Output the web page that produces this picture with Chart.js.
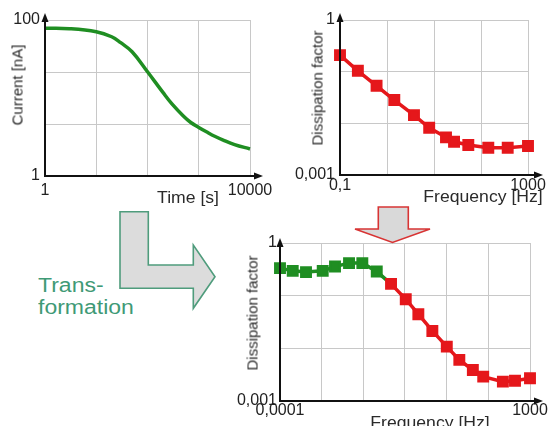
<!DOCTYPE html>
<html><head><meta charset="utf-8">
<script src="https://cdn.jsdelivr.net/npm/chart.js@4.4.1/dist/chart.umd.min.js"></script>
<style>
html,body{margin:0;padding:0;background:#fff}
body{width:558px;height:426px;position:relative;overflow:hidden;font-family:"Liberation Sans",Arial,sans-serif}
canvas{position:absolute}
.t{position:absolute;white-space:nowrap;color:#2a2a2a;line-height:1;transform-origin:center center}
svg{position:absolute;left:0;top:0;z-index:5}
</style></head><body>
<canvas id="c1" width="280" height="210" style="left:0;top:0"></canvas>
<canvas id="c2" width="278" height="210" style="left:280px;top:0"></canvas>
<canvas id="c3" width="358" height="201" style="left:200px;top:225px"></canvas>
<svg width="558" height="426">
  <polygon points="120,211.7 148.3,211.7 148.3,265 193.3,265 193.3,245 215,276.7 193.3,308.3 193.3,288.3 120,288.3" fill="#dcdcdc" stroke="#4f9c7c" stroke-width="1.6"/>
  <polygon points="378.3,207 408.3,207 408.3,229 430,229 392.5,242.5 355,229 378.3,229" fill="#d9d9d9" stroke="#d83434" stroke-width="1.6"/>
</svg>
<div class="t" id="yt1" style="font-size:15px">Current [nA]</div>
<div class="t" id="xt1" style="font-size:16px">Time [s]</div>
<div class="t" id="yt2" style="font-size:15px">Dissipation factor</div>
<div class="t" id="xt2" style="font-size:16px">Frequency [Hz]</div>
<div class="t" id="yt3" style="font-size:15px">Dissipation factor</div>
<div class="t" id="xt3" style="font-size:16px">Frequency [Hz]</div>
<div class="t" id="trans" style="font-size:20px;color:#3f9a76;line-height:22px;transform-origin:left top;transform:scaleX(1.15);left:38px;top:274px">Trans-<br>formation</div>
<script>
// ---------- Data ----------
// Top-left: polarisation current vs time
const timeS = [1, 3, 10, 20, 30, 50, 100, 200, 300, 500, 700, 1000, 1500, 2000, 3000, 5000, 10000];
const currentNA = [78.3, 77.4, 70.8, 61, 51.2, 39.2, 21.7, 11.8, 8.4, 5.88, 4.85, 4.2, 3.61, 3.26, 2.89, 2.53, 2.22];
const timeGrid = [1, 10, 100, 1000, 10000];
const timeTickLabels = ['1', '', '', '', '10000'];
const currentGrid = [1, 4.64, 21.5, 100];
const currentTickLabels = ['1', '', '', '100'];

// Top-right: measured dissipation factor vs frequency
const measFreqHz = [0.1, 0.24, 0.6, 1.43, 3.75, 7.9, 18, 26.7, 53.7, 143, 370, 1000];
const measDissipation = [0.209, 0.104, 0.0533, 0.0282, 0.0144, 0.00822, 0.00536, 0.0044, 0.0038, 0.00337, 0.00337, 0.00364];
const measFreqGrid = [0.1, 1, 10, 100, 1000];
const measFreqTickLabels = ['0,1', '', '', '', '1000'];
const dissGrid = [0.001, 0.01, 0.1, 1];
const dissTickLabels = ['0,001', '', '', '1'];

// Bottom: transformed (green) + measured (red) dissipation factor
const transFreqHz = [0.0001, 0.000227, 0.000535, 0.00157, 0.00347, 0.00857, 0.0202, 0.0512];
const transDissipation = [0.333, 0.296, 0.28, 0.296, 0.357, 0.415, 0.415, 0.287];
const combMeasFreqHz = [0.1285, 0.332, 0.748, 1.845, 4.68, 10.5, 25.1, 49, 174, 380, 1000];
const combMeasDissipation = [0.1675, 0.0857, 0.0445, 0.0214, 0.01076, 0.00603, 0.00388, 0.0029, 0.00233, 0.00243, 0.0027];
const combFreqGrid = [0.0001, 0.00147, 0.0215, 0.316, 4.64, 68.1, 1000];
const combFreqTickLabels = ['0,0001', '', '', '', '', '', '1000'];

// ---------- Styles ----------
const FONT = '"Liberation Sans", Arial, sans-serif';
const GREEN = '#1f8e22';
const RED = '#e5171b';
const GRID = '#c8c8c8';

const axisArrows = {
  id: 'axisArrows',
  afterDatasetsDraw(chart, args, o) {
    const { ctx, chartArea: a } = chart;
    const up = o.up || 7, rt = o.right || 13, L = 9, W = 3.5;
    ctx.save();
    ctx.strokeStyle = '#111'; ctx.fillStyle = '#111'; ctx.lineWidth = 2;
    ctx.beginPath();
    ctx.moveTo(a.left, a.top - up + L - 1);
    ctx.lineTo(a.left, a.bottom);
    ctx.lineTo(a.right + rt - L + 1, a.bottom);
    ctx.stroke();
    ctx.beginPath();
    ctx.moveTo(a.left, a.top - up);
    ctx.lineTo(a.left - W, a.top - up + L);
    ctx.lineTo(a.left + W, a.top - up + L);
    ctx.closePath(); ctx.fill();
    ctx.beginPath();
    ctx.moveTo(a.right + rt, a.bottom);
    ctx.lineTo(a.right + rt - L, a.bottom - W);
    ctx.lineTo(a.right + rt - L, a.bottom + W);
    ctx.closePath(); ctx.fill();
    ctx.restore();
  }
};

function logAxis(min, max, grid, labels, size, pad) {
  return {
    type: 'logarithmic', min: min, max: max,
    afterBuildTicks: s => { s.ticks = grid.map(v => ({ value: v })); },
    afterFit: s => { if (s.isHorizontal()) s.height = size; else s.width = size; },
    ticks: { autoSkip: false, maxRotation: 0, minRotation: 0, padding: pad, color: '#222',
             font: { size: 16, family: FONT }, callback: (v, i) => labels[i] },
    grid: { color: GRID, lineWidth: 1, drawTicks: false },
    border: { display: false }
  };
}

function baseOptions(padding, xAxis, yAxis, arrows) {
  return {
    responsive: false, animation: false, events: [],
    layout: { padding: padding },
    plugins: { legend: { display: false }, tooltip: { enabled: false }, axisArrows: arrows },
    scales: { x: xAxis, y: yAxis }
  };
}

// Chart 1
new Chart(document.getElementById('c1'), {
  type: 'line',
  data: { datasets: [{
    data: timeS.map((t, i) => ({ x: t, y: currentNA[i] })),
    borderColor: GREEN, borderWidth: 3.5, pointRadius: 0,
    tension: 0.4, clip: false
  }] },
  options: baseOptions({ left: 0, top: 20, right: 30, bottom: 9 },
    logAxis(1, 10000, timeGrid, timeTickLabels, 25, 5),
    logAxis(1, 100, currentGrid, currentTickLabels, 45, 5),
    { up: 7, right: 13 }),
  plugins: [axisArrows]
});

// Chart 2
new Chart(document.getElementById('c2'), {
  type: 'line',
  data: { datasets: [{
    data: measFreqHz.map((f, i) => ({ x: f, y: measDissipation[i] })),
    borderColor: RED, borderWidth: 3.5, tension: 0,
    pointStyle: 'rect', pointRadius: 7, pointBorderWidth: 2,
    pointBackgroundColor: RED, pointBorderColor: RED, clip: false
  }] },
  options: baseOptions({ left: 0, top: 20, right: 30, bottom: 10 },
    logAxis(0.1, 1000, measFreqGrid, measFreqTickLabels, 25, 1),
    logAxis(0.001, 1, dissGrid, dissTickLabels, 60, 5),
    { up: 7, right: 15 }),
  plugins: [axisArrows]
});

// Chart 3
const nTrans = transFreqHz.length;
const combFreq = transFreqHz.concat(combMeasFreqHz);
const combDiss = transDissipation.concat(combMeasDissipation);
const combColors = combFreq.map((f, i) => i < nTrans ? GREEN : RED);
new Chart(document.getElementById('c3'), {
  type: 'line',
  data: { datasets: [{
    data: combFreq.map((f, i) => ({ x: f, y: combDiss[i] })),
    borderColor: RED, borderWidth: 3.5, tension: 0,
    segment: { borderColor: c => c.p0DataIndex < nTrans ? GREEN : RED },
    pointStyle: 'rect', pointRadius: 7, pointBorderWidth: 2,
    pointBackgroundColor: combColors, pointBorderColor: combColors, clip: false
  }] },
  options: baseOptions({ left: 0, top: 18, right: 28, bottom: 0 },
    logAxis(0.0001, 1000, combFreqGrid, combFreqTickLabels, 25, 0),
    logAxis(0.001, 1, dissGrid, dissTickLabels, 80, 3),
    { up: 5, right: 13 }),
  plugins: [axisArrows]
});

// Axis titles (HTML text)
function place(id, cx, cy, rot, sx) {
  const el = document.getElementById(id);
  el.style.left = cx + 'px'; el.style.top = cy + 'px';
  el.style.transform = 'translate(-50%,-50%)' + (rot ? ' rotate(-90deg)' : '') + (sx ? ' scaleX(' + sx + ')' : '');
}
place('yt1', 17, 85, true);
place('xt1', 188, 197.5, false, 1.1);
place('yt2', 317, 88, true);
place('xt2', 482.5, 197, false, 1.1);
place('yt3', 252, 313, true);
place('xt3', 430, 422.5, false, 1.1);
</script>
</body></html>
